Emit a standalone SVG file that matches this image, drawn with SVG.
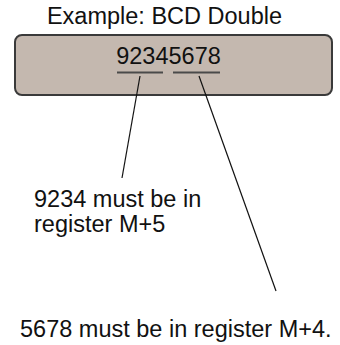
<svg xmlns="http://www.w3.org/2000/svg" width="340" height="345" viewBox="0 0 340 345">
  <style>
    text { font-family: "Liberation Sans", Arial, sans-serif; font-size: 23.5px; fill: #111; }
    .box { fill: #c4b8af; stroke: #3a3a3a; stroke-width: 2; }
    .under { stroke: #4a4a4a; stroke-width: 2; }
    .conn { stroke: #111; stroke-width: 1.2; fill: none; }
  </style>
  <rect width="340" height="345" fill="#ffffff"/>
  <text x="164.5" y="24" text-anchor="middle">Example: BCD Double</text>
  <g id="register-box">
    <rect class="box" x="15" y="35" width="317" height="60" rx="7" ry="7"/>
    <text x="168.5" y="64" text-anchor="middle">92345678</text>
    <line class="under" x1="117" y1="72.5" x2="163" y2="72.5"/>
    <line class="under" x1="173" y1="72.5" x2="220" y2="72.5"/>
  </g>
  <g id="note-high">
    <text x="34" y="207">9234 must be in</text>
    <text x="34" y="232">register M+5</text>
  </g>
  <g id="note-low">
    <text x="20" y="337">5678 must be in register M+4.</text>
  </g>
  <g id="connectors">
    <line class="conn" x1="140" y1="76" x2="122" y2="178"/>
    <line class="conn" x1="199" y1="76" x2="276" y2="291"/>
  </g>
</svg>
